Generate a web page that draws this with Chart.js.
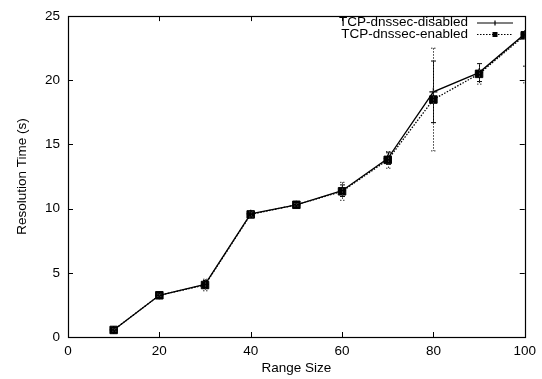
<!DOCTYPE html>
<html>
<head>
<meta charset="utf-8">
<script src="https://cdn.jsdelivr.net/npm/chart.js@4/dist/chart.umd.min.js"></script>
<style>
  html, body { margin: 0; padding: 0; background: #fff; }
  #wrap { width: 542px; height: 379px; }
</style>
</head>
<body>
<div id="wrap"><canvas id="chart" width="542" height="379"></canvas></div>
<script>
var rangeSizes = [10, 20, 30, 40, 50, 60, 70, 80, 90, 100];
var disabledTimes = [0.55, 3.25, 4.1, 9.6, 10.3, 11.4, 13.9, 19.1, 20.6, 23.6];
var disabledErrors = [0.1, 0.1, 0.3, 0.2, 0.1, 0.45, 0.45, 2.4, 0.7, 2.5];
var enabledTimes = [0.55, 3.25, 4.05, 9.55, 10.3, 11.35, 13.8, 18.5, 20.5, 23.5];
var enabledErrors = [0.1, 0.1, 0.45, 0.2, 0.1, 0.7, 0.65, 4.0, 0.8, 3.7];
var xTicks = [0, 20, 40, 60, 80, 100];
var yTicks = [0, 5, 10, 15, 20, 25];
var seriesNames = ['TCP-dnssec-disabled', 'TCP-dnssec-enabled'];

var FONT = '"Liberation Sans", Arial, Helvetica, sans-serif';

var toPoints = function(xs, ys) {
  return xs.map(function(x, i) {
    return { x: x, y: ys[i] };
  });
};

// gnuplot style: closed border with ticks pointing inward on all four sides
var frame = {
  id: 'frame',
  beforeDatasetsDraw: function(chart) {
    var ctx = chart.ctx, a = chart.chartArea, xs = chart.scales.x, ys = chart.scales.y, len = 5;
    ctx.save();
    ctx.strokeStyle = '#000';
    ctx.lineWidth = 1;
    ctx.beginPath();
    xTicks.forEach(function(v) {
      var px = Math.round(xs.getPixelForValue(v)) + 0.5;
      ctx.moveTo(px, a.bottom); ctx.lineTo(px, a.bottom - len);
      ctx.moveTo(px, a.top); ctx.lineTo(px, a.top + len);
    });
    yTicks.forEach(function(v) {
      var py = Math.round(ys.getPixelForValue(v)) + 0.5;
      ctx.moveTo(a.left, py); ctx.lineTo(a.left + len, py);
      ctx.moveTo(a.right, py); ctx.lineTo(a.right - len, py);
    });
    ctx.stroke();
    ctx.lineWidth = 1.2;
    ctx.strokeRect(Math.round(a.left) + 0.5, Math.round(a.top) + 0.5,
      Math.round(a.right - a.left), Math.round(a.bottom - a.top));
    ctx.restore();
  }
};

var errorBars = {
  id: 'errorBars',
  afterDatasetsDraw: function(chart) {
    var ctx = chart.ctx, a = chart.chartArea, xs = chart.scales.x, ys = chart.scales.y;
    var sets = [
      { means: disabledTimes, errs: disabledErrors, dash: [], color: '#000' },
      { means: enabledTimes, errs: enabledErrors, dash: [1.5, 1.5], color: '#333' }
    ];
    ctx.save();
    ctx.beginPath();
    ctx.rect(a.left, a.top, a.right - a.left, a.bottom - a.top);
    ctx.clip();
    sets.forEach(function(s) {
      ctx.strokeStyle = s.color;
      ctx.lineWidth = 1;
      ctx.setLineDash(s.dash);
      ctx.beginPath();
      rangeSizes.forEach(function(x, i) {
        var px = Math.round(xs.getPixelForValue(x)) + 0.5;
        var top = ys.getPixelForValue(s.means[i] + s.errs[i]);
        var bot = ys.getPixelForValue(s.means[i] - s.errs[i]);
        ctx.moveTo(px, top); ctx.lineTo(px, bot);
        ctx.moveTo(px - 2.5, top); ctx.lineTo(px + 2.5, top);
        ctx.moveTo(px - 2.5, bot); ctx.lineTo(px + 2.5, bot);
      });
      ctx.stroke();
    });
    ctx.restore();
  }
};

var keyBox = {
  id: 'keyBox',
  afterDraw: function(chart) {
    var ctx = chart.ctx;
    var textRight = 468, x0 = 477, x1 = 513, mx = 495;
    var rows = [22.5, 34];
    ctx.save();
    ctx.font = '13.5px ' + FONT;
    ctx.fillStyle = '#000';
    ctx.textAlign = 'right';
    ctx.textBaseline = 'middle';
    seriesNames.forEach(function(name, i) {
      ctx.fillText(name, textRight, rows[i]);
    });
    ctx.strokeStyle = '#000';
    ctx.lineWidth = 1.2;
    ctx.beginPath();
    ctx.moveTo(x0, rows[0] + 0.5); ctx.lineTo(x1, rows[0] + 0.5);
    ctx.moveTo(mx, rows[0] - 2); ctx.lineTo(mx, rows[0] + 3);
    ctx.stroke();
    ctx.setLineDash([1.5, 1.5]);
    ctx.beginPath();
    ctx.moveTo(x0, rows[1] + 0.5); ctx.lineTo(x1, rows[1] + 0.5);
    ctx.stroke();
    ctx.setLineDash([]);
    ctx.fillRect(mx - 2.5, rows[1] - 2, 5, 5);
    ctx.restore();
  }
};

new Chart(document.getElementById('chart'), {
  type: 'line',
  data: {
    datasets: [
      {
        label: seriesNames[0],
        data: toPoints(rangeSizes, disabledTimes),
        borderColor: '#000',
        borderWidth: 1.3,
        pointStyle: 'cross',
        pointRadius: 4,
        pointBorderColor: '#000',
        pointBorderWidth: 1.3,
        tension: 0
      },
      {
        label: seriesNames[1],
        data: toPoints(rangeSizes, enabledTimes),
        borderColor: '#000',
        borderWidth: 1.3,
        borderDash: [1.5, 1.5],
        pointStyle: 'rect',
        pointRadius: 5.3,
        pointBackgroundColor: '#000',
        pointBorderColor: '#000',
        pointBorderWidth: 1,
        tension: 0
      }
    ]
  },
  options: {
    responsive: false,
    animation: false,
    events: [],
    layout: { padding: { top: 10, right: 15, left: 0, bottom: 0 } },
    plugins: {
      legend: { display: false },
      tooltip: { enabled: false }
    },
    scales: {
      x: {
        type: 'linear',
        min: 0,
        max: 100,
        afterBuildTicks: function(scale) {
          scale.ticks = xTicks.map(function(v) { return { value: v }; });
        },
        afterFit: function(scale) { scale.height = 42; },
        grid: { display: false, drawTicks: false },
        border: { display: false },
        ticks: { color: '#000', padding: 6, maxRotation: 0, font: { family: FONT, size: 13.5 } },
        title: {
          display: true,
          text: 'Range Size',
          color: '#000',
          padding: { top: 0, bottom: 3 },
          font: { family: FONT, size: 13.5 }
        }
      },
      y: {
        type: 'linear',
        min: 0,
        max: 25,
        afterBuildTicks: function(scale) {
          scale.ticks = yTicks.map(function(v) { return { value: v }; });
        },
        afterFit: function(scale) { scale.width = 68; },
        grid: { display: false, drawTicks: false },
        border: { display: false },
        ticks: { color: '#000', padding: 8, font: { family: FONT, size: 13.5 } },
        title: {
          display: true,
          text: 'Resolution Time (s)',
          color: '#000',
          padding: { top: 14, bottom: 0 },
          font: { family: FONT, size: 13.5 }
        }
      }
    }
  },
  plugins: [frame, errorBars, keyBox]
});
</script>
</body>
</html>
